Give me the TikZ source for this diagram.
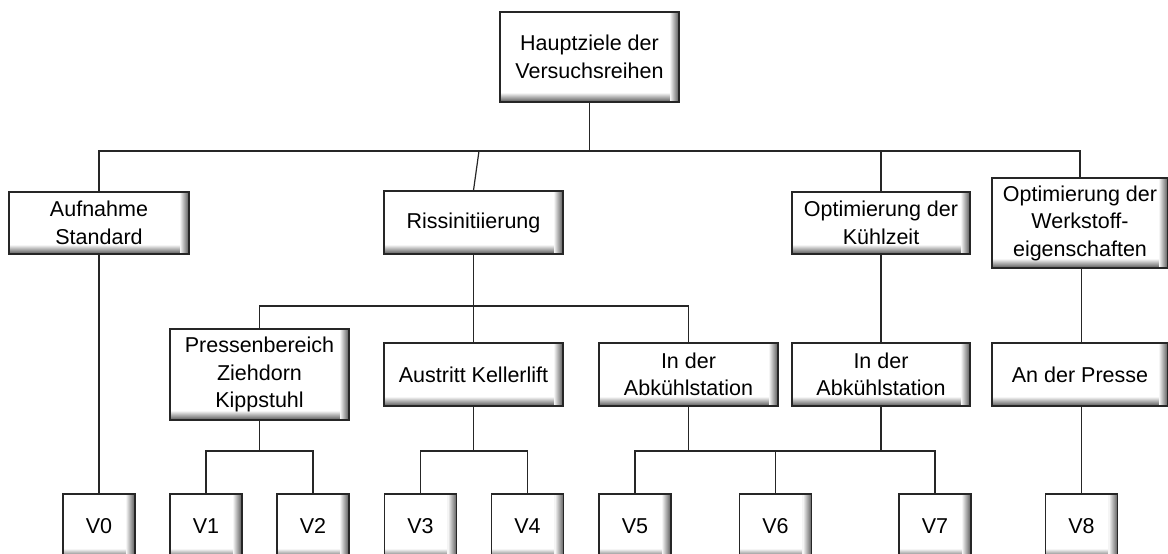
\documentclass[tikz,border=0pt]{standalone}
\usepackage{fontspec}
\setmainfont{Liberation Sans}
\tikzset{
  treebox/.style={draw=black!85, line width=1.3pt, fill=white, inner sep=0pt, align=center,
    font=\fontsize{21.5}{27.5}\selectfont,
    path picture={
      \foreach \i in {0,...,8}{
        \pgfmathsetmacro{\sh}{60-7*\i}
        \draw[black!\sh, line width=1.05pt]
          ([xshift=-\i pt-0.5pt]path picture bounding box.north east) --
          ([xshift=-\i pt-0.5pt]path picture bounding box.south east);
        \draw[black!\sh, line width=1.05pt]
          ([yshift=\i pt+0.5pt, xshift=-\i pt]path picture bounding box.south east) --
          ([yshift=\i pt+0.5pt]path picture bounding box.south west);
      }
    }},
  conn/.style={draw=black!85, line width=1.2pt},
}
\begin{document}
\begin{tikzpicture}[x=1pt,y=-1pt]
\useasboundingbox (0,0) rectangle (1168,554);
\fill[white] (0,0) rectangle (1168,554);
\clip (0,0) rectangle (1168,554);
% bus levels
\coordinate (bus1) at (0,151);
\coordinate (bus2) at (0,306);
\coordinate (bus3) at (0,451);
% root
\node[treebox, minimum width=179pt, minimum height=90pt] (root) at (589.5,57) {Hauptziele der\\Versuchsreihen};
% level 1
\node[treebox, minimum width=180pt, minimum height=62pt] (A) at (99,223) {Aufnahme\\Standard};
\node[treebox, minimum width=179pt, minimum height=63pt] (R) at (473.5,222.5) {Rissinitiierung};
\node[treebox, minimum width=178pt, minimum height=62pt] (K) at (881,223) {Optimierung der\\Kühlzeit};
\node[treebox, minimum width=176pt, minimum height=90pt] (W) at (1080,223) {Optimierung der\\Werkstoff-\\eigenschaften};
% level 2
\node[treebox, minimum width=179pt, minimum height=91pt] (P) at (259.5,374.5) {Pressenbereich\\Ziehdorn\\Kippstuhl};
\node[treebox, minimum width=179pt, minimum height=63pt] (Au) at (473.5,374.5) {Austritt Kellerlift};
\node[treebox, minimum width=179pt, minimum height=63pt] (Ab1) at (688.5,374.5) {In der\\Abkühlstation};
\node[treebox, minimum width=178pt, minimum height=63pt] (Ab2) at (881,374.5) {In der\\Abkühlstation};
\node[treebox, minimum width=176pt, minimum height=63pt] (AP) at (1080,374.5) {An der Presse};
% level 3
\foreach \n/\cx in {0/99, 1/206, 2/313, 3/420.5, 4/527.5, 5/635, 6/775.5, 7/935, 8/1081.5}{
  \node[treebox, minimum width=72pt, minimum height=64pt] (V\n) at (\cx,526) {V\n};
}
% connectors level 1
\draw[conn] (root.south) -- (root.south |- bus1);
\draw[conn] (A.north) -- (A.north |- bus1) -- (W.north |- bus1) -- (W.north);
\draw[conn] ([xshift=5.5pt]R.north |- bus1) -- (R.north);
\draw[conn] (K.north |- bus1) -- (K.north);
% level 2
\draw[conn] (P.north) -- (P.north |- bus2) -- (Ab1.north |- bus2) -- (Ab1.north);
\draw[conn] (R.south) -- (Au.north);
\draw[conn] (K.south) -- (Ab2.north);
\draw[conn] (W.south -| V8.north) -- (AP.north -| V8.north);
% level 3
\draw[conn] (A.south) -- (V0.north);
\draw[conn] (P.south) -- (P.south |- bus3);
\draw[conn] (V1.north) -- (V1.north |- bus3) -- (V2.north |- bus3) -- (V2.north);
\draw[conn] (Au.south) -- (Au.south |- bus3);
\draw[conn] (V3.north) -- (V3.north |- bus3) -- (V4.north |- bus3) -- (V4.north);
\draw[conn] (Ab1.south) -- (Ab1.south |- bus3);
\draw[conn] (Ab2.south) -- (Ab2.south |- bus3);
\draw[conn] (V5.north) -- (V5.north |- bus3) -- (V7.north |- bus3) -- (V7.north);
\draw[conn] (V6.north |- bus3) -- (V6.north);
\draw[conn] (AP.south -| V8.north) -- (V8.north);
\end{tikzpicture}
\end{document}
